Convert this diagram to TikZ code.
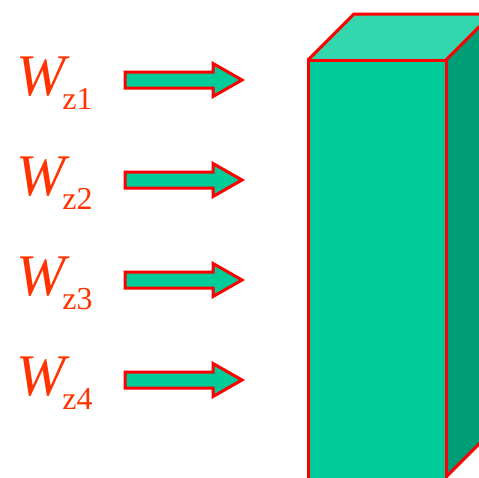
\documentclass[tikz,border=0pt]{standalone}
\usepackage{fontspec}
\setmainfont{Liberation Serif}
\definecolor{lbl}{HTML}{FF3300}
\definecolor{front}{HTML}{00CC99}
\definecolor{topf}{HTML}{33D6AD}
\definecolor{sidef}{HTML}{009E77}
\definecolor{edge}{HTML}{FF0000}
\newcommand{\wlabel}[1]{{\fontsize{59}{59}\selectfont\itshape W}\kern-3pt\raisebox{-14pt}{\fontsize{32}{32}\selectfont z#1}}
\tikzset{
  face/.style={draw=edge, line width=3pt, line join=miter},
  wlab/.style={anchor=base west, inner sep=0pt, text=lbl},
  arr/.style={draw=edge, line width=3pt, fill=front, line join=miter}
}
\begin{document}
\begin{tikzpicture}[x=1pt,y=-1pt]
\useasboundingbox (0,0) rectangle (479,477);
\begin{scope}
\clip (0,0) rectangle (479,477);
% box
\fill[topf] (308,60) -- (354,14) -- (492,14) -- (446,60) -- cycle;
\fill[front] (308,60) rectangle (446,480);
\fill[sidef] (446,60) -- (492,14) -- (492,431) -- (446,477) -- cycle;
\draw[face] (446,480) -- (446,60) -- (308,60) -- (308,480);
\draw[face] (308,60) -- (354,14) -- (492,14) -- (446,60);
\draw[face] (492,14) -- (492,431) -- (446,477);
\end{scope}
\foreach \i/\y in {1/80,2/180,3/280,4/380}{
  \node[wlab] (w\i) at (16,\y+15) {\wlabel{\i}};
  \draw[arr] (125,\y-8) -- (213,\y-8) -- (213,\y-16.5) -- (242,\y) -- (213,\y+16.5) -- (213,\y+8) -- (125,\y+8) -- cycle;
}
\end{tikzpicture}
\end{document}
